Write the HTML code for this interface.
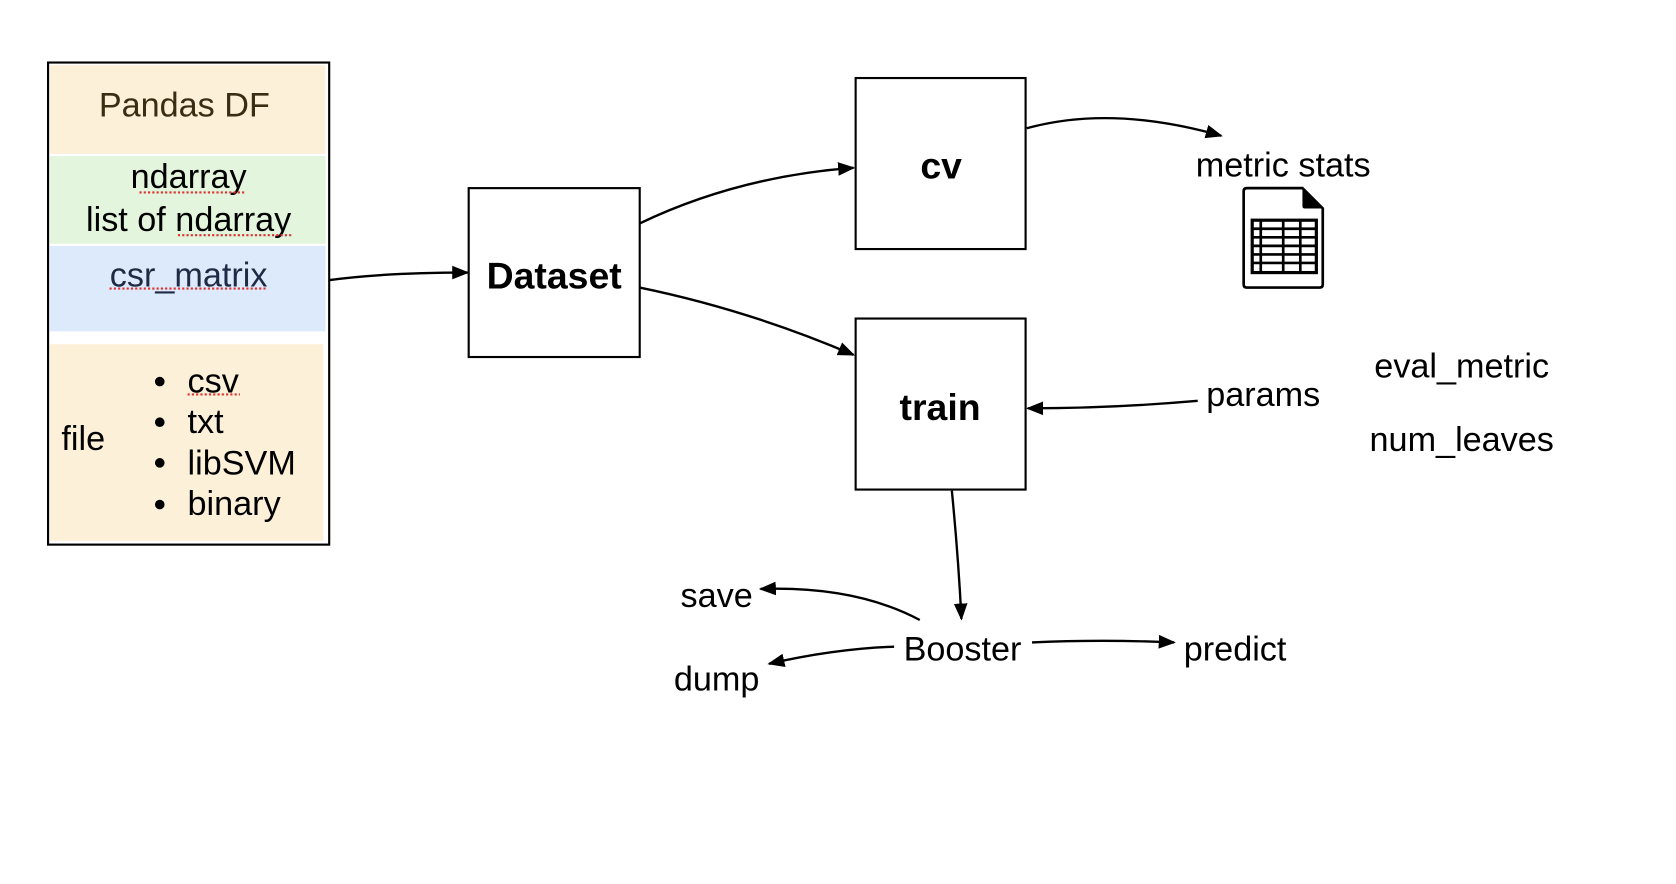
<!DOCTYPE html>
<html><head><meta charset="utf-8"><style>
html,body{margin:0;padding:0;background:#fff;width:1676px;height:884px;overflow:hidden}
svg{display:block}
text{font-family:"Liberation Sans",sans-serif;}
</style></head><body>
<svg width="1676" height="884" viewBox="0 0 1567 827" xmlns="http://www.w3.org/2000/svg">
<defs>
<marker id="b" viewBox="0 0 10 10" refX="9" refY="5" markerWidth="16" markerHeight="16" markerUnits="userSpaceOnUse" orient="auto"><path d="M0,1 L10,5 L0,9 Z" fill="#000"/></marker>
</defs>
<rect x="46" y="61" width="258" height="83" fill="#fcf0d9"/>
<rect x="46" y="146" width="258" height="82" fill="#e3f5dc"/>
<rect x="46" y="230" width="258" height="80" fill="#dceafc"/>
<rect x="46" y="322" width="256" height="184" fill="#fcf0d9"/>
<rect x="44.5" y="58.5" width="263" height="451" fill="none" stroke="#000" stroke-width="2"/>
<g font-size="32" text-anchor="middle">
<text x="172" y="109" fill="#3a2e12">Pandas DF</text>
<text x="176" y="176">ndarray</text>
<text x="176" y="216">list of ndarray</text>
<text x="176" y="268" fill="#1f2a44">csr_matrix</text>
</g>
<g stroke="#e03030" stroke-width="2" stroke-dasharray="2,2">
<line x1="130" y1="180" x2="228" y2="180"/>
<line x1="166" y1="220" x2="272" y2="220"/>
<line x1="102" y1="270" x2="248" y2="270"/>
<line x1="175" y1="369" x2="224" y2="369"/>
</g>
<g font-size="32">
<text x="57" y="421">file</text>
<text x="175" y="367">csv</text>
<text x="175" y="405">txt</text>
<text x="175" y="444">libSVM</text>
<text x="175" y="482">binary</text>
</g>
<g fill="#000"><circle cx="149" cy="357" r="4.5"/><circle cx="149" cy="395" r="4.5"/><circle cx="149" cy="433" r="4.5"/><circle cx="149" cy="472" r="4.5"/></g>
<g fill="none" stroke="#000" stroke-width="2">
<rect x="438" y="176" width="160" height="158"/>
<rect x="800" y="73" width="159" height="160"/>
<rect x="800" y="298" width="159" height="160"/>
</g>
<g font-size="35" font-weight="bold" text-anchor="middle">
<text x="518" y="270">Dataset</text>
<text x="880" y="167">cv</text>
<text x="879" y="393">train</text>
</g>
<g font-size="32">
<text x="1200" y="165" text-anchor="middle">metric stats</text>
<text x="1128" y="380">params</text>
<text x="1367" y="353" text-anchor="middle">eval_metric</text>
<text x="1367" y="422" text-anchor="middle">num_leaves</text>
<text x="670" y="568" text-anchor="middle">save</text>
<text x="900" y="618" text-anchor="middle">Booster</text>
<text x="1155" y="618" text-anchor="middle">predict</text>
<text x="670" y="646" text-anchor="middle">dump</text>
</g>
<path d="M1166,176 L1218,176 L1237,195 L1237,266 Q1237,269 1234,269 L1166,269 Q1163,269 1163,266 L1163,179 Q1163,176 1166,176 Z" fill="#fff" stroke="#000" stroke-width="2.5"/>
<path d="M1218,176 L1237,195 L1220,195 Q1218,195 1218,193 Z" fill="#000"/>
<rect x="1171" y="206" width="60" height="49" fill="none" stroke="#000" stroke-width="3"/>
<g stroke="#000" stroke-width="2.5">
<line x1="1171" y1="214" x2="1231" y2="214"/><line x1="1171" y1="222" x2="1231" y2="222"/><line x1="1171" y1="230" x2="1231" y2="230"/><line x1="1171" y1="238" x2="1231" y2="238"/><line x1="1171" y1="246" x2="1231" y2="246"/>
<line x1="1179" y1="206" x2="1179" y2="255"/><line x1="1200" y1="206" x2="1200" y2="255"/><line x1="1216" y1="206" x2="1216" y2="255"/>
</g>
<g fill="none" stroke="#000" stroke-width="2.2" marker-end="url(#b)">
<path d="M308,262 Q360,255 437,255"/>
<path d="M598,209 Q690,165 798,157"/>
<path d="M960,120 Q1040,98 1142,127"/>
<path d="M598,269 Q700,290 798,332"/>
<path d="M1120,375 Q1040,382 961,382"/>
<path d="M890,459 Q896,520 899,579"/>
<path d="M860,580 Q800,548 711,551"/>
<path d="M836,605 Q780,607 719,621"/>
<path d="M965,601 Q1030,598 1098,601"/>
</g>
</svg>
</body></html>
